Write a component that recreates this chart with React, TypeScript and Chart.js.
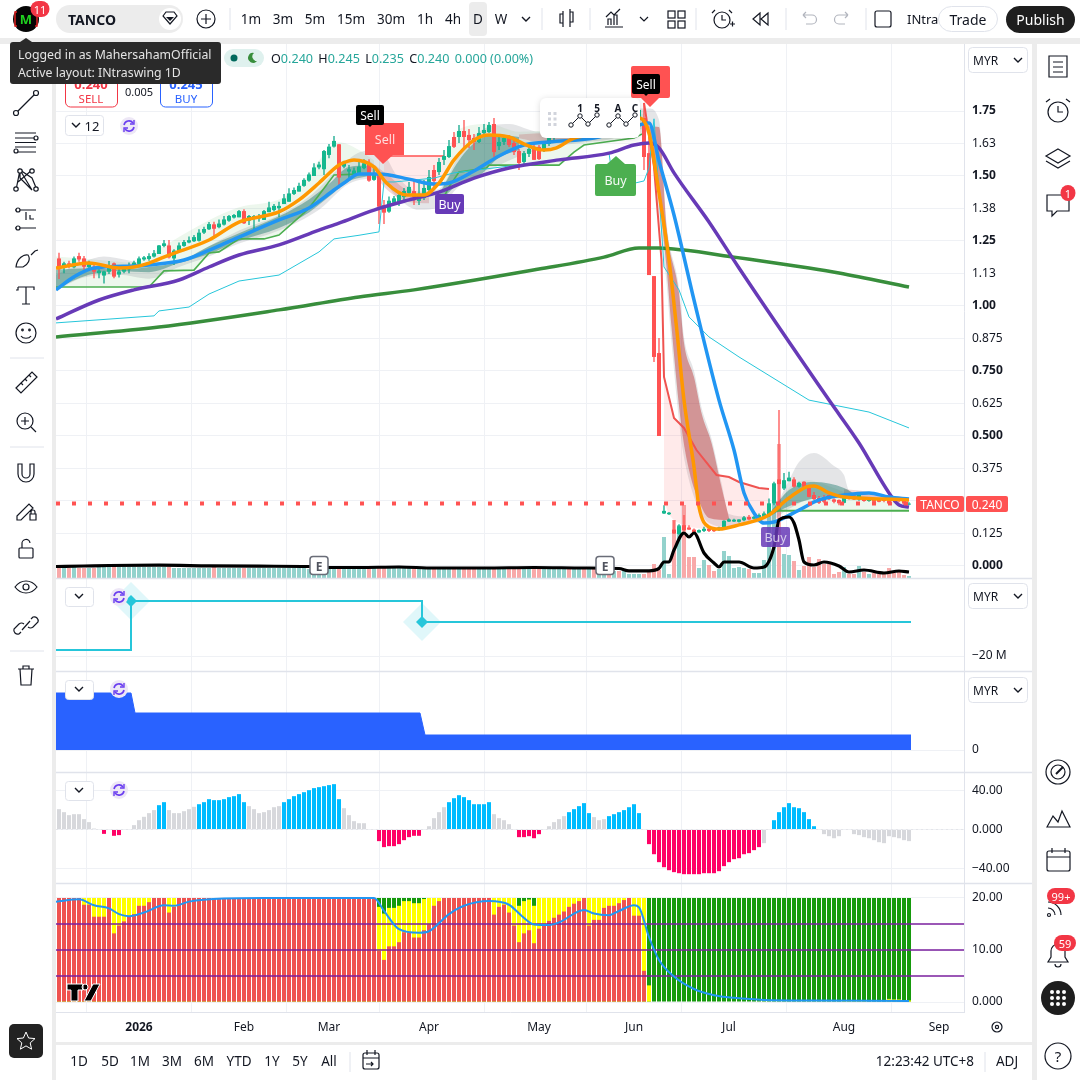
import React, { useEffect, useRef } from "react";
import { Chart, registerables } from "chart.js";

Chart.register(...registerables);

const FONT = '"Noto Sans", "Open Sans", sans-serif';

// ---------- data ----------
const monthTicks = [16, 37, 54, 74, 96, 115, 134, 157, 176];
const monthLabels = ["2026", "Feb", "Mar", "Apr", "May", "Jun", "Jul", "Aug", "Sep"];
const priceTicks = [0, 0.125, 0.25, 0.375, 0.5, 0.625, 0.75, 0.875, 1, 1.125, 1.25, 1.375, 1.5, 1.625, 1.75];
const priceTickLabels = ["0.000", "0.125", "", "0.375", "0.500", "0.625", "0.750", "0.875", "1.00", "1.13", "1.25", "1.38", "1.50", "1.63", "1.75"];
const boldPriceLabels = ["0.000", "0.500", "0.750", "1.00", "1.25", "1.50", "1.75"];

const opens = [
  1.183,1.149,1.164,1.149,1.192,1.183,1.149,1.151,1.126,1.117,
  1.132,1.164,1.121,1.132,1.141,1.154,1.162,1.179,1.181,1.190,
  1.200,1.231,1.233,1.183,1.213,1.231,1.244,1.249,1.251,1.282,
  1.295,1.314,1.303,1.313,1.328,1.340,1.341,1.365,1.328,1.337,
  1.337,1.331,1.361,1.369,1.376,1.392,1.401,1.431,1.440,1.462,
  1.482,1.500,1.533,1.526,1.581,1.613,1.622,1.536,1.517,1.508,
  1.510,1.530,1.549,1.485,1.504,1.388,1.363,1.397,1.396,1.419,
  1.435,1.442,1.404,1.415,1.446,1.523,1.515,1.562,1.573,1.650,
  1.650,1.673,1.658,1.646,1.631,1.665,1.669,1.700,1.615,1.631,
  1.646,1.627,1.596,1.554,1.585,1.612,1.612,1.600,1.623,1.646,
  1.66,1.68,1.70,1.69,1.71,1.73,1.71,1.72,1.68,1.71,
  1.73,1.72,1.73,1.72,1.70,1.72,1.723,1.723,1.588,1.115,
  0.819,0.202,0.199,0.140,0.123,0.157,0.148,0.140,0.129,0.135,
  0.144,0.142,0.138,0.148,0.171,0.171,0.170,0.176,0.189,0.182,
  0.187,0.189,0.196,0.241,0.333,0.298,0.326,0.333,0.305,0.324,
  0.310,0.273,0.262,0.260,0.273,0.256,0.254,0.243,0.273,0.266,
  0.256,0.260,0.250,0.256,0.256,0.256,0.253,0.260,0.255,0.250,0.240,
];
const highs = [
  1.205,1.170,1.174,1.190,1.205,1.192,1.174,1.164,1.141,1.136,
  1.173,1.167,1.151,1.151,1.167,1.174,1.190,1.192,1.203,1.215,
  1.235,1.254,1.254,1.218,1.244,1.254,1.267,1.273,1.295,1.305,
  1.323,1.324,1.333,1.346,1.350,1.354,1.369,1.372,1.350,1.350,
  1.354,1.369,1.401,1.392,1.401,1.431,1.453,1.456,1.474,1.491,
  1.513,1.549,1.555,1.600,1.623,1.654,1.623,1.559,1.542,1.533,
  1.564,1.564,1.564,1.538,1.508,1.408,1.421,1.423,1.438,1.454,
  1.477,1.485,1.473,1.485,1.523,1.542,1.569,1.600,1.638,1.669,
  1.696,1.715,1.681,1.662,1.688,1.700,1.708,1.723,1.650,1.658,
  1.658,1.650,1.604,1.596,1.615,1.619,1.619,1.635,1.658,1.677,
  1.69,1.71,1.72,1.72,1.74,1.75,1.73,1.74,1.72,1.74,
  1.75,1.74,1.74,1.75,1.74,1.745,1.76,1.781,1.65,1.115,
  0.877,0.234,0.208,0.176,0.161,0.196,0.157,0.144,0.140,0.151,
  0.148,0.144,0.151,0.176,0.183,0.182,0.180,0.192,0.196,0.193,
  0.202,0.210,0.260,0.324,0.600,0.358,0.362,0.341,0.324,0.326,
  0.311,0.285,0.269,0.273,0.275,0.260,0.256,0.275,0.279,0.273,
  0.279,0.262,0.262,0.260,0.260,0.259,0.258,0.262,0.258,0.252,0.245,
];
const lows = [
  1.104,1.126,1.145,1.145,1.170,1.139,1.141,1.107,1.107,1.087,
  1.123,1.107,1.110,1.126,1.126,1.149,1.151,1.174,1.174,1.187,
  1.200,1.226,1.183,1.158,1.213,1.228,1.241,1.246,1.248,1.277,
  1.292,1.269,1.299,1.310,1.324,1.337,1.341,1.315,1.312,1.292,
  1.324,1.331,1.361,1.363,1.341,1.392,1.401,1.427,1.440,1.459,
  1.478,1.500,1.526,1.504,1.568,1.610,1.453,1.530,1.485,1.500,
  1.504,1.526,1.478,1.482,1.315,1.315,1.359,1.395,1.385,1.404,
  1.427,1.388,1.388,1.408,1.438,1.446,1.504,1.542,1.569,1.608,
  1.627,1.608,1.608,1.600,1.627,1.658,1.665,1.573,1.600,1.619,
  1.612,1.581,1.523,1.546,1.573,1.562,1.562,1.592,1.615,1.638,
  1.65,1.67,1.68,1.67,1.70,1.70,1.69,1.66,1.67,1.70,
  1.71,1.70,1.71,1.70,1.69,1.71,1.715,1.523,1.119,0.785,
  0.500,0.200,0.196,0.123,0.120,0.135,0.138,0.125,0.128,0.131,
  0.131,0.131,0.135,0.146,0.169,0.169,0.167,0.172,0.176,0.179,
  0.185,0.187,0.189,0.234,0.241,0.292,0.326,0.302,0.302,0.302,
  0.264,0.254,0.238,0.241,0.254,0.241,0.234,0.241,0.256,0.254,
  0.251,0.247,0.247,0.245,0.245,0.245,0.235,0.245,0.245,0.235,0.235,
];
const closes = [
  1.141,1.164,1.151,1.183,1.179,1.151,1.162,1.132,1.136,1.133,
  1.151,1.113,1.133,1.142,1.154,1.167,1.183,1.187,1.192,1.203,
  1.233,1.241,1.187,1.213,1.233,1.246,1.253,1.265,1.282,1.296,
  1.315,1.297,1.317,1.333,1.346,1.350,1.365,1.318,1.346,1.346,
  1.346,1.365,1.379,1.385,1.385,1.414,1.433,1.446,1.462,1.485,
  1.506,1.533,1.544,1.596,1.613,1.635,1.494,1.555,1.526,1.521,
  1.536,1.549,1.482,1.504,1.382,1.359,1.405,1.414,1.427,1.442,
  1.458,1.419,1.431,1.454,1.496,1.481,1.554,1.577,1.615,1.612,
  1.673,1.650,1.638,1.631,1.665,1.677,1.696,1.592,1.631,1.646,
  1.619,1.592,1.550,1.588,1.604,1.562,1.565,1.627,1.646,1.665,
  1.68,1.70,1.69,1.71,1.73,1.71,1.72,1.68,1.71,1.73,
  1.72,1.73,1.72,1.74,1.72,1.735,1.754,1.573,1.119,0.804,
  0.500,0.212,0.205,0.125,0.153,0.138,0.140,0.128,0.138,0.143,
  0.135,0.134,0.148,0.174,0.179,0.178,0.179,0.187,0.179,0.189,
  0.196,0.202,0.241,0.318,0.315,0.330,0.340,0.305,0.320,0.305,
  0.266,0.257,0.243,0.247,0.257,0.247,0.241,0.269,0.260,0.256,
  0.273,0.250,0.258,0.247,0.247,0.250,0.240,0.250,0.250,0.240,0.240,
];
const volumes = [
  1.0,1.0,1.0,1.1,1.0,1.0,1.0,1.0,1.1,1.1,
  1.1,1.1,1.1,1.1,1.1,1.1,1.1,1.1,1.1,1.1,
  1.1,1.1,1.1,1.0,1.0,1.0,1.0,1.0,1.0,1.0,
  1.0,1.1,1.0,1.0,1.0,1.0,1.0,1.0,1.0,1.0,
  1.0,1.0,1.0,1.0,1.0,1.0,1.0,1.0,1.0,1.0,
  0.9,0.9,0.9,0.9,0.9,0.9,1.0,1.0,1.0,1.0,
  1.0,1.0,1.0,1.0,1.0,1.0,1.0,1.0,1.0,1.0,
  1.0,1.0,1.0,1.0,0.9,0.9,1.0,1.0,1.0,1.0,
  1.0,1.0,1.0,1.0,1.0,1.0,1.0,1.0,1.0,1.0,
  1.0,1.0,1.0,1.0,1.0,1.0,1.0,1.0,1.0,1.0,
  1.0,1.0,1.0,1.0,1.0,1.0,1.0,1.0,0.9,0.7,
  0.7,0.7,0.7,0.7,0.4,0.4,0.4,0.4,0.8,1.4,
  0.8,4.1,0.4,5.8,5.3,7.3,2.1,2.1,1.0,1.8,
  1.3,0.7,0.9,2.7,2.2,1.0,1.1,1.0,0.9,0.5,
  0.5,1.8,6.9,9.4,13.4,2.4,2.3,1.7,0.8,1.2,
  2.1,1.1,1.9,1.4,1.4,0.4,0.6,1.1,0.4,0.4,
  1.2,0.6,0.4,0.5,0.4,0.4,1.0,0.5,0.6,0.3,0.2,
];
const volumeAverage = [[-0.6,1.15],[5,1.2],[10,1.25],[20,1.28],[30,1.22],[40,1.18],[50,1.15],[55,1.05],[60,1.05],[68,1.1],[75,1.0],[85,1.0],[95,1.05],[105,1.0],[112,0.95],[114,0.72],[118,0.72],[120,0.96],[121,1.6],[122,1.6],[123,2.8],[125,4.5],[126,4.1],[127,4.5],[129,2.5],[131,1.5],[132,1.1],[133,1.6],[136,1.6],[139,1.0],[141,1.1],[143,3.1],[144,5.8],[146,6.1],[147,5.5],[148,3.8],[149,1.6],[151,1.3],[153,1.6],[156,1.2],[158,0.6],[161,0.8],[165,0.5],[168,0.7],[170,0.6]];

const orangeLine = [[-0.6,1.146],[6,1.165],[12,1.146],[15,1.150],[18,1.165],[22,1.196],[30,1.254],[36,1.323],[44,1.362],[48,1.408],[52,1.473],[56,1.542],[58,1.558],[59,1.562],[63,1.535],[65.5,1.473],[69.5,1.427],[73,1.427],[76,1.473],[79,1.562],[83,1.638],[86,1.658],[90,1.650],[93.5,1.619],[97,1.600],[99.5,1.608],[103,1.646],[108,1.658],[112,1.665],[116,1.723],[118,1.665],[120,1.435],[122,1.177],[123.5,0.919],[125,0.638],[127,0.381],[128,0.227],[130,0.150],[132,0.142],[136,0.158],[142,0.196],[145.5,0.254],[149.5,0.304],[151,0.308],[154,0.281],[157,0.265],[165,0.258],[170,0.254]];
const blueLine = [[-0.6,1.062],[3,1.112],[7,1.146],[15,1.154],[18,1.158],[25,1.177],[31,1.223],[36,1.265],[44,1.331],[50,1.377],[55,1.446],[57,1.473],[60,1.508],[64,1.508],[70,1.488],[75,1.469],[78,1.473],[83,1.519],[88,1.577],[93,1.619],[98,1.631],[107,1.646],[116,1.696],[118,1.704],[120,1.558],[123,1.350],[127,1.023],[132,0.638],[135,0.446],[137,0.281],[139,0.204],[141,0.165],[143,0.169],[148,0.215],[152,0.254],[157,0.273],[162,0.281],[166,0.265],[170,0.258]];
const purpleLine = [[-0.6,0.95],[8,1.023],[15,1.062],[24,1.100],[30,1.150],[36,1.196],[44,1.235],[52,1.292],[56,1.319],[63,1.369],[70,1.408],[76,1.438],[83,1.492],[90,1.531],[100,1.562],[110,1.588],[115,1.619],[118,1.627],[120,1.608],[123,1.512],[130,1.323],[136,1.146],[154,0.638],[160,0.473],[166,0.281],[168,0.235],[170,0.227]];
const darkGreenLine = [[-0.6,0.881],[20,0.919],[44,0.985],[60,1.035],[71,1.062],[96,1.142],[109,1.188],[116,1.223],[120,1.223],[125,1.215],[135,1.188],[150,1.146],[156,1.127],[170,1.073]];
const cyanLine = [[-0.6,0.935],[19,0.962],[20,0.981],[26,0.996],[30,1.046],[36,1.096],[44,1.119],[52,1.208],[55,1.258],[60,1.272],[64,1.285],[65,1.477],[67,1.477],[75,1.492],[79,1.512],[100,1.562],[110,1.588],[111,1.454],[117,1.481],[118,1.531],[119,1.72],[120,1.435],[121,1.150],[124,1.062],[126,0.958],[130,0.881],[136,0.804],[150,0.638],[162,0.592],[170,0.531]];
const stepGreenA = [[-0.6,1.073],[18,1.073],[21,1.135],[27,1.138],[30,1.204],[32,1.208],[36,1.258],[41,1.258],[44,1.273],[49,1.358],[50,1.377],[52,1.427],[55,1.504],[61,1.508],[63,1.508]];
const stepRedA = [[65,1.577],[77,1.577]];
const stepGreenB = [[76.5,1.40],[78,1.458],[80,1.515],[85.5,1.531],[86,1.542],[100,1.542],[103,1.592],[105,1.619],[115,1.646],[117,1.665]];
const stepRedB = [[117,1.781],[119,1.535],[120.5,1.177],[121,0.727],[123,0.569],[125,0.531],[127.5,0.446],[131.5,0.35],[134,0.342],[136,0.323],[140,0.30],[142,0.296]];
const paleBottomC = [[121,0.25],[122,0.2],[124,0.165],[128,0.145],[132,0.142],[136,0.158],[142,0.196]];
const stepGreenC = [[143,0.212],[170,0.212]];
const paleTopA = [[-0.6,1.19],[12,1.17],[15,1.165],[20,1.22],[30,1.33],[36,1.38],[44,1.41],[48,1.46],[52,1.56],[56,1.63],[60,1.60],[63,1.56]];
const paleTopB = [[77,1.56],[80,1.68],[86,1.70],[92,1.67],[100,1.68],[110,1.70],[117,1.74]];
const paleTopC = [[143,0.20],[146,0.30],[150,0.33],[152,0.32],[160,0.27],[170,0.26]];
const greyTop = [[-0.6,1.12],[5,1.17],[9,1.19],[14,1.175],[19,1.155],[24,1.17],[30,1.23],[36,1.29],[44,1.35],[50,1.42],[56,1.53],[60,1.59],[64,1.60],[68,1.49],[72,1.44],[76,1.45],[80,1.58],[84,1.67],[90,1.70],[96,1.67],[105,1.67],[116,1.76],[118,1.76],[120,1.715],[121.5,1.32],[124,1.07],[125,0.88],[127,0.75],[128.5,0.61],[130.5,0.49],[132.5,0.32],[134,0.20],[138,0.19],[142,0.20],[146,0.33],[148,0.40],[151,0.435],[155,0.385],[157,0.35],[158,0.29],[162,0.275],[170,0.26]];
const greyBottom = [[-0.6,1.06],[5,1.11],[12,1.12],[18,1.105],[24,1.15],[30,1.19],[36,1.24],[44,1.29],[52,1.37],[58,1.47],[64,1.49],[68,1.41],[72,1.37],[76,1.38],[80,1.46],[84,1.50],[90,1.56],[96,1.60],[105,1.63],[110,1.64],[116,1.68],[118,1.65],[119.5,1.44],[121.5,1.09],[122.5,0.86],[124.5,0.48],[126,0.33],[128.5,0.20],[130,0.165],[134,0.15],[138,0.165],[142,0.17],[146,0.22],[151,0.26],[157,0.26],[162,0.265],[170,0.25]];
const tealTopA = [[-0.6,1.14],[6,1.145],[12,1.14],[18,1.15],[24,1.17],[30,1.23],[36,1.28],[44,1.345],[50,1.41],[54,1.47],[58,1.535],[62,1.54]];
const tealBottomA = [[-0.6,1.068],[6,1.12],[12,1.135],[18,1.13],[24,1.165],[30,1.20],[36,1.25],[44,1.30],[50,1.36],[54,1.42],[58,1.48],[62,1.50]];
const redTopA = [[62,1.56],[66,1.50],[70,1.44],[74,1.42]];
const redBottomA = [[62,1.53],[66,1.44],[70,1.40],[74,1.395]];
const tealTopB = [[76,1.43],[80,1.56],[84,1.64],[88,1.66],[92,1.65]];
const tealBottomB = [[76,1.40],[80,1.47],[84,1.50],[88,1.57],[92,1.60]];
const redTopC = [[118,1.69],[120,1.688],[121.5,1.304],[124,1.05],[125,0.858],[127,0.727],[128.5,0.588],[130.5,0.473],[132.5,0.304],[134,0.185]];
const redBottomC = [[118,1.688],[119.5,1.496],[121.5,1.15],[122.5,0.919],[124.5,0.535],[126,0.369],[128.5,0.227],[130,0.185],[134,0.177]];
const tealTopC = [[142,0.20],[146,0.292],[151,0.323],[157,0.30],[160,0.265]];
const tealBottomC = [[142,0.19],[146,0.23],[151,0.26],[157,0.27],[160,0.265]];
const faintRedTopB = [[92,1.66],[98,1.665],[103,1.665]];
const faintRedBottomB = [[92,1.645],[98,1.625],[103,1.65]];
const faintRedTopD = [[157,0.295],[162,0.285],[166,0.265]];
const faintRedBottomD = [[157,0.27],[162,0.262],[166,0.26]];
const lastPrice = [[-0.6,0.24],[171.2,0.24]];

const flowLine = [[-0.6,-14],[14.4,-14],[14.4,35],[72.6,35],[72.6,14],[170.4,14]];
const flowMarks = [[14.4,35],[72.6,14]];
const flowTicks = [-20];
const areaLine = [[-0.6,57],[14.4,57],[15.2,37],[72.2,37],[73.2,15],[170.4,15]];
const areaTicks = [0];

const oscillator = [
  21,17.9,14.8,15.8,15.8,10.7,7.6,1,0,-4.5,
  0,-6.5,-5.8,0,0,4.5,9.6,13.1,16.9,20,
  25.1,28.2,20,16.9,16.9,18.9,21,23.4,26.1,28.2,
  31.3,30.3,30.3,31.3,33.4,34.4,36.5,28.2,24.1,21,
  16.9,17.9,20,23,24.1,28.2,31.3,34.4,36.5,38.5,
  40.6,42.7,43.7,44.7,45.8,46.8,31.3,22,14.8,8.6,
  6.5,6.5,0,0,-12,-18.2,-17.2,-17.2,-15.1,-11,
  -7.9,-6.5,-6.5,0,3.4,11.7,17.9,23,28.2,32.3,
  35.4,33.4,30.3,26.1,26.1,26.1,28.2,15.8,11.7,9.6,
  5.5,0,-7.9,-7.9,-6.9,-9,-4.8,0,3.4,7.6,
  10.7,13.8,17.9,21,24.1,27.2,16.9,12.8,9.6,10.7,
  13.8,15.8,17.9,20,23,26.1,16.9,0,-15.1,-25.5,
  -33.7,-38.9,-42,-44,-45.1,-46.1,-46.1,-46.1,-46.1,-45.1,
  -45.1,-45.1,-43,-37.8,-33.7,-30.6,-29.6,-25.5,-24.4,-21.3,
  -18.2,-14.1,0,9.6,17.9,23,27.2,23,22,17.9,
  10.7,3.4,0,-4.8,-6.9,-9,-6.9,0,0,-4.8,
  -5.8,-7.9,-9,-11,-13.1,-14.1,-6.9,-7.9,-9,-11,-12,
];
const oscillatorRuns = [[0,"g"],[9,"p"],[10,"g"],[11,"p"],[13,"g"],[20,"b"],[22,"g"],[28,"b"],[38,"g"],[45,"b"],[57,"g"],[64,"p"],[73,"g"],[78,"b"],[87,"g"],[92,"p"],[97,"g"],[102,"b"],[107,"g"],[110,"b"],[117,"g"],[118,"p"],[141,"g"],[143,"b"],[152,"g"]] as [number,string][];
const oscillatorTicks = [40, 0, -40];
const oscillatorTickLabels = ["40.00", "0.000", "\u221240.00"];

const redLevel = [
  20,20,20,20,20,18.7,18.7,16.4,16.4,16.4,
  20,13.2,14.7,15.5,16.4,16.9,18.5,18.5,19.2,20,
  20,20,17.2,18.3,20,20,20,20,20,20,
  20,20,20,20,20,20,20,20,20,20,
  20,20,20,20,20,20,20,20,20,20,
  20,20,20,20,20,20,20,20,20,20,
  20,20,20,20,9.8,8.1,10.7,10.7,11.5,13.4,
  13.4,12.4,12.4,13.8,14.9,18.5,19.4,20,20,20,
  20,20,20,20,20,20,20,16.8,18.3,18.7,
  17.2,14.7,11.5,13.2,13.8,11.3,14.1,14.7,15.6,16.2,
  16.8,17.4,18.3,18.9,19.4,20,14.7,15.8,15.8,18.1,
  18.5,18.5,19,19.6,20,16.6,16.6,6,0.1,0.1,
  0.1,0.1,0.1,0.1,0.1,0.1,0.1,0.1,0.1,0.1,
  0.1,0.1,0.1,0.1,0.1,0.1,0.1,0.1,0.1,0.1,
  0.1,0.1,0.1,0.1,0.1,0.1,0.1,0.1,0.1,0.1,
  0.1,0.1,0.1,0.1,0.1,0.1,0.1,0.1,0.1,0.1,
  0.1,0.1,0.1,0.1,0.1,0.1,0.1,0.1,0.1,0.1,0.1,
];
const yellowLevel = [
  20,20,20,20,20,20,20,20,20,20,
  20,20,20,20,20,20,20,20,20,20,
  20,20,20,20,20,20,20,20,20,20,
  20,20,20,20,20,20,20,20,20,20,
  20,20,20,20,20,20,20,20,20,20,
  20,20,20,20,20,20,20,20,20,20,
  20,20,20,20,18.3,17,18.1,18.1,18.5,19.4,
  19.4,19,19,19.8,20,20,20,20,20,20,
  20,20,20,20,20,20,20,20,20,20,
  20,20,18.5,19.4,19.7,18.5,20,20,20,20,
  20,20,20,20,20,20,20,20,20,20,
  20,20,20,20,20,20,20,20,3.2,0.1,
  0.1,0.1,0.1,0.1,0.1,0.1,0.1,0.1,0.1,0.1,
  0.1,0.1,0.1,0.1,0.1,0.1,0.1,0.1,0.1,0.1,
  0.1,0.1,0.1,0.1,0.1,0.1,0.1,0.1,0.1,0.1,
  0.1,0.1,0.1,0.1,0.1,0.1,0.1,0.3,0.3,0.3,
  0.3,0.3,0.1,0.1,0.1,0.1,0.6,0.5,0.5,0.2,0.3,
];
const trendLine = [[-0.6,19.3],[4,19.75],[7,18.6],[10,18],[12,16.9],[14,16.5],[17,17.2],[21,18.6],[23,18.5],[26,19.3],[33,19.9],[41,20],[63,20],[65,17.5],[68,14],[72,13.3],[74,13.6],[78,16.9],[81,18.5],[86,19.4],[90,18.7],[92.5,16.6],[95,14.9],[98,14.8],[100,15.3],[105,17.7],[107,17],[110,16.7],[112,17.5],[115,18.6],[116,18.2],[118,12.5],[120,8.1],[123,4.9],[127,2.5],[131,1.3],[135,0.8],[141,0.4],[151,0.3],[170,0.2]];
const trendLevels = [15, 10, 5];
const trendTicks = [20, 10, 0];
const trendTickLabels = ["20.00", "10.00", "0.000"];

// ---------- helpers ----------
const UP = "#12a88c", DOWN = "#ff5252";
const GRID = "#eff1f5", EDGE = "#e0e3eb";
const XMIN = -0.6, XMAX = 181;
const pts = (k: number[][]) => k.map(([x, y]) => ({ x, y }));
const idx = (a: number[]) => a.map((y, x) => ({ x, y }));
const isUp = (i: number) => closes[i] >= opens[i];
const noPad = (s: any) => { s.paddingLeft = 0; s.paddingRight = 0; s.paddingTop = 0; s.paddingBottom = 0; };

function xAxis(showLabels: boolean) {
  return {
    type: "linear", min: XMIN, max: XMAX, offset: false,
    border: { display: showLabels, color: EDGE },
    grid: { color: GRID, drawTicks: false, lineWidth: 1 },
    afterBuildTicks: (s: any) => { s.ticks = monthTicks.map((value) => ({ value })); },
    afterFit: (s: any) => { s.height = showLabels ? 28 : 0; noPad(s); },
    ticks: {
      display: showLabels, autoSkip: false, maxRotation: 0, padding: 8, color: "#131722",
      font: (c: any) => ({ family: FONT, size: 12, weight: c.index === 0 ? "700" : "400" }),
      callback: (_: any, i: number) => monthLabels[i],
    },
  };
}
function yAxis(min: number, max: number, ticks: number[], label: (v: number, i: number) => string, bold?: (s: string) => boolean) {
  return {
    type: "linear", position: "right", min, max,
    border: { display: true, color: EDGE },
    grid: { color: GRID, drawTicks: false, lineWidth: 1 },
    afterBuildTicks: (s: any) => { s.ticks = ticks.map((value) => ({ value })); },
    afterFit: (s: any) => { s.width = 66; noPad(s); },
    ticks: {
      autoSkip: false, padding: 8, color: "#131722",
      font: (c: any) => ({ family: FONT, size: 12, weight: bold && c.tick && bold(c.tick.label) ? "700" : "400" }),
      callback: (v: number, i: number) => label(v, i),
    },
  };
}
function line(k: number[][], color: string, width: number, order: number, extra: any = {}) {
  return {
    type: "line", data: pts(k), borderColor: color, borderWidth: width, pointRadius: 0,
    cubicInterpolationMode: "monotone", order, fill: false, ...extra,
  };
}
function band(top: number[][], color: string, targetIndex: number, order: number) {
  return {
    type: "line", data: pts(top), borderWidth: 0, borderColor: "transparent", pointRadius: 0,
    backgroundColor: color, order, fill: { target: targetIndex },
    cubicInterpolationMode: "monotone",
  };
}
function edge(k: number[][]) {
  return { type: "line", data: pts(k), borderWidth: 0, borderColor: "transparent", pointRadius: 0, order: 999, fill: false, cubicInterpolationMode: "monotone" };
}
function baseOptions(scales: any) {
  return {
    responsive: false, animation: false, devicePixelRatio: 1,
    layout: { padding: 0, autoPadding: false },
    plugins: { legend: { display: false }, tooltip: { enabled: false } },
    events: [], parsing: true, scales,
  };
}

function mainDatasets() {
  const TEAL = "rgba(0,105,92,0.38)", CRIMSON = "rgba(183,28,28,0.4)", FAINT = "rgba(183,28,28,0.18)";
  const PALEG = "rgba(76,175,80,0.1)", PALER = "rgba(255,82,82,0.12)";
  const ds: any[] = [];
  const add = (d: any) => { ds.push(d); return ds.length - 1; };
  const orangeI = add(line(orangeLine, "#ff9800", 3.5, 29));
  add(line(blueLine, "#2196f3", 3.5, 30));
  add(line(purpleLine, "#673ab7", 3.5, 38));
  add(line(darkGreenLine, "#388e3c", 3.5, 40));
  add(line(cyanLine, "#26c6da", 1, 39, { cubicInterpolationMode: "default" }));
  add({ ...line(volumeAverage, "#000000", 3.2, 10), yAxisID: "yVol" });
  add({ ...line(lastPrice, "#ff5252", 4, 20), borderDash: [4, 12], cubicInterpolationMode: "default" });
  add({ type: "bar", grouped: false, yAxisID: "y", order: 49, barThickness: 4, minBarLength: 1, inflateAmount: 0,
    data: opens.map((o, i) => ({ x: i, y: [Math.min(o, closes[i]), Math.max(o, closes[i])] })),
    backgroundColor: opens.map((_, i) => (isUp(i) ? "#14b88f" : DOWN)) });
  add({ type: "bar", grouped: false, yAxisID: "y", order: 50, barThickness: 1.3, inflateAmount: 0,
    data: highs.map((h, i) => ({ x: i, y: [lows[i], h] })),
    backgroundColor: opens.map((_, i) => (isUp(i) ? UP : DOWN)) });
  add({ type: "bar", grouped: false, yAxisID: "yVol", order: 100, barThickness: 4, inflateAmount: 0,
    data: idx(volumes),
    backgroundColor: opens.map((_, i) => (isUp(i) ? "#93d2cc" : "#f8a9a9")) });
  // step lines with their pale fills
  const straight = { cubicInterpolationMode: "default" };
  const gA = add(line(stepGreenA, "#4caf50", 1.6, 60, straight));
  const gB = add(line(stepGreenB, "#4caf50", 1.6, 60, straight));
  const gC = add(line(stepGreenC, "#4caf50", 2, 60, straight));
  const pC = add(edge(paleBottomC));
  add(line(stepRedA, "#ff5252", 1.6, 60, { ...straight, backgroundColor: PALER, fill: { target: orangeI } }));
  add(line(stepRedB, "#ef5350", 2, 58, { ...straight, backgroundColor: PALER, fill: { target: pC } }));
  add(band(paleTopA, PALEG, gA, 90));
  add(band(paleTopB, PALEG, gB, 90));
  add(band(paleTopC, PALEG, gC, 90));
  // grey envelope
  const gb = add(edge(greyBottom));
  add(band(greyTop, "rgba(120,123,134,0.2)", gb, 85));
  // coloured bands
  const pairs: [number[][], number[][], string][] = [
    [tealTopA, tealBottomA, TEAL], [redTopA, redBottomA, FAINT], [tealTopB, tealBottomB, TEAL],
    [faintRedTopB, faintRedBottomB, FAINT], [redTopC, redBottomC, CRIMSON], [tealTopC, tealBottomC, TEAL], [faintRedTopD, faintRedBottomD, FAINT],
  ];
  pairs.forEach(([t, b, c]) => { const bi = add(edge(b)); add(band(t, c, bi, 70)); });
  return ds;
}

const colorOf: Record<string, string> = { g: "#d7d8dc", b: "#00bcff", p: "#ff0266" };
function oscColor(i: number) {
  let k = "g";
  for (const [start, kind] of oscillatorRuns) if (i >= start) k = kind;
  return colorOf[k];
}

// ---------- page ----------
const Txt = ({ x, y, t, s = 13, c = "#131722", w = 400, a = "middle", o = 1 }: any) => (
  <text x={x} y={y} fontSize={s} fill={c} fontWeight={w} textAnchor={a} opacity={o} fontFamily={FONT} dominantBaseline="central">{t}</text>
);
const Sync = ({ x, y }: any) => (
  <g>
    <circle cx={x} cy={y} r={9} fill="#ede7f6" />
    <path d={`M${x - 5} ${y - 1}a5 5 0 0 1 9-2 M${x + 5} ${y + 1}a5 5 0 0 1-9 2`} stroke="#6a3df0" strokeWidth="1.6" fill="none" />
    <path d={`M${x + 5} ${y - 6}v4h-4 M${x - 5} ${y + 6}v-4h4`} stroke="#6a3df0" strokeWidth="1.4" fill="none" />
  </g>
);
const Chev = ({ x, y, c = "#131722" }: any) => <path d={`M${x - 4} ${y - 2}l4 4l4-4`} stroke={c} strokeWidth="1.4" fill="none" />;
const Sep = ({ x }: any) => <line x1={x} x2={x} y1={8} y2={30} stroke="#e0e3eb" />;
const Badge = ({ x, y, t, w = 18 }: any) => (
  <g>
    <rect x={x - w / 2} y={y - 8} width={w} height={16} rx={8} fill="#f23645" />
    <Txt x={x} y={y} t={t} s={11} c="#fff" />
  </g>
);
const MyrBox = ({ y }: any) => (
  <g>
    <rect x={968.5} y={y + .5} width={59} height={25} rx={4} fill="#fff" stroke="#e0e3eb" />
    <Txt x={973} y={y + 13} t="MYR" s={12} a="start" />
    <Chev x={1018} y={y + 13} />
  </g>
);
const Wave = ({ x, a, b }: any) => (
  <g>
    <path d={`M${x} 125 l9 -9 l8 8 l9 -9`} stroke="#131722" fill="none" strokeWidth="1" />
    {[[x, 125], [x + 9, 116], [x + 17, 124], [x + 26, 115]].map(([p, q], i) => <circle key={i} cx={p} cy={q} r="2.2" fill="#fff" stroke="#131722" />)}
    <Txt x={x + 9} y={108} t={a} s={10} w={700} />
    <Txt x={x + 26} y={108} t={b} s={10} w={700} />
  </g>
);

function Overlay() {
  const st = { stroke: "#131722", fill: "none", strokeWidth: 1.2 };
  return (
    <svg width={1080} height={1080} style={{ position: "absolute", left: 0, top: 0, pointerEvents: "none" }}>
      {/* header strip inside the main pane */}
      <rect x={224} y={49} width={40} height={18} rx={9} fill="#dff1ee" />
      <circle cx={234} cy={58} r={3.5} fill="#00695c" />
      <path d="M254 53a5 5 0 1 0 3 8a4.5 4.5 0 0 1-3-8z" fill="#388e3c" />
      <text x={271} y={58} fontSize={12.6} fontFamily={FONT} dominantBaseline="central" fill="#26a69a">
        <tspan fill="#131722">O</tspan>0.240 <tspan fill="#131722" dx={2}>H</tspan>0.245 <tspan fill="#131722" dx={2}>L</tspan>0.235 <tspan fill="#131722" dx={2}>C</tspan>0.240 <tspan dx={2}>0.000 (0.00%)</tspan>
      </text>

      {/* buy / sell box */}
      <rect x={65.5} y={70} width={52} height={37} rx={5} fill="#fff" stroke="#f23645" />
      <Txt x={91} y={84} t="0.240" c="#f23645" w={700} />
      <Txt x={91} y={98} t="SELL" c="#f23645" s={11.5} />
      <Txt x={139} y={91} t="0.005" s={11} />
      <rect x={160.5} y={70} width={52} height={37} rx={5} fill="#fff" stroke="#2962ff" />
      <Txt x={186} y={84} t="0.245" c="#2962ff" w={700} />
      <Txt x={186} y={98} t="BUY" c="#2962ff" s={11.5} />

      <rect x={65.5} y={115.5} width={38} height={20} rx={3} fill="#fff" stroke="#e0e3eb" />
      <Chev x={76} y={125} />
      <Txt x={92} y={126} t="12" s={13} />
      <Sync x={129} y={126} />

      {/* signal labels */}
      <path d="M365 123h39v32h-11l-10 9l-9-9h-9z" fill="#ff5252" />
      <Txt x={385} y={139} t="Sell" c="#fff" s={12.5} o={.8} />
      <path d="M358 105h24a2 2 0 0 1 2 2v16a2 2 0 0 1-2 2h-10l-2 2l-2-2h-10a2 2 0 0 1-2-2v-16a2 2 0 0 1 2-2z" fill="#000" />
      <Txt x={370} y={115} t="Sell" c="#fff" s={12} />
      <rect x={435} y={194} width={29} height={20} rx={2} fill="#673ab7" />
      <Txt x={449.5} y={204} t="Buy" c="#fff" s={12.5} />
      <path d="M616 156l9 8h9a2 2 0 0 1 2 2v28a2 2 0 0 1-2 2h-37a2 2 0 0 1-2-2v-28a2 2 0 0 1 2-2h10z" fill="#4caf50" />
      <Txt x={615.5} y={180} t="Buy" c="#fff" s={12.5} o={.95} />
      <path d="M631 68a2 2 0 0 1 2-2h35a2 2 0 0 1 2 2v28a2 2 0 0 1-2 2h-9l-9 9l-9-9h-8a2 2 0 0 1-2-2z" fill="#ff5252" />
      <path d="M634 74h24a2 2 0 0 1 2 2v16a2 2 0 0 1-2 2h-10l-2 2l-2-2h-10a2 2 0 0 1-2-2v-16a2 2 0 0 1 2-2z" fill="#000" />
      <Txt x={646} y={84} t="Sell" c="#fff" s={12} />
      <rect x={761} y={527} width={29} height={20} rx={2} fill="#673ab7" opacity=".85" />
      <Txt x={775.5} y={537} t="Buy" c="#fff" s={12.5} o={.7} />

      {/* earnings */}
      {[319, 605].map((x) => (
        <g key={x}>
          <rect x={x - 9} y={556.5} width={18} height={18} rx={3} fill="#fff" stroke="#6a6d78" strokeWidth={1.5} />
          <Txt x={x} y={566} t="E" s={12} w={700} c="#50535e" />
        </g>
      ))}

      {/* floating drawing toolbar */}
      <rect x={540} y={98} width={100} height={40} rx={6} fill="#fff" style={{ filter: "drop-shadow(0 1px 3px rgba(0,0,0,.15))" }} />
      {[0, 1, 2].map((r) => [0, 1].map((c) => <rect key={`${r}${c}`} x={548 + c * 5.5} y={112 + r * 5.5} width={3} height={3} fill="#d1d4dc" />))}
      <Wave x={571} a="1" b="5" />
      <Wave x={609} a="A" b="C" />

      {/* last price */}
      <rect x={916} y={496} width={48} height={16} rx={2} fill="#ff5252" />
      <Txt x={940} y={504} t="TANCO" s={12} c="#fff" />
      <rect x={966} y={496} width={42} height={16} rx={2} fill="#ff5252" />
      <Txt x={987} y={504} t="0.240" s={12} c="#fff" />

      <MyrBox y={47} /><MyrBox y={583} /><MyrBox y={677} />

      {/* pane controls */}
      {[[587, 597], [680, 689], [781, 790]].map(([t, cy]: any) => (
        <g key={t}>
          <rect x={65.5} y={t + .5} width={28} height={19} rx={3} fill="#fff" stroke="#e0e3eb" />
          <Chev x={79} y={t + 9} />
          <Sync x={119} y={cy} />
        </g>
      ))}

      {/* watermark */}
      <path d="M67 984h16v6h-5v11h-7v-11h-4z M85 984a3 3 0 1 1 0 6a3 3 0 0 1 0-6z M93 984h7l-9 17h-7z" fill="#000" stroke="#fff" strokeWidth="1" />

      {/* top bar */}
      <rect x={0} y={0} width={1080} height={38} fill="#fff" />
      <rect x={0} y={38} width={1080} height={6} fill="#ececec" />
      <rect x={52} y={38} width={4} height={1042} fill="#ececec" />
      <rect x={1032} y={38} width={5} height={1042} fill="#ececec" />
      <rect x={52} y={1042} width={985} height={3} fill="#ececec" />

      <circle cx={26} cy={19} r={13} fill="#050505" />
      <Txt x={26} y={19} t="M" s={13} w={700} c="#1fd11f" />
      <path d="M17 12h-2v14h2 M35 12h2v14h-2" stroke="#e02020" strokeWidth="1.5" fill="none" />
      <Badge x={40} y={9} t="11" w={19} />
      <rect x={56} y={5} width={127} height={28} rx={14} fill="#ececec" />
      <Txt x={68} y={19} t="TANCO" s={14} w={700} a="start" />
      <circle cx={170} cy={19} r={11} fill="#fff" />
      <path d="M163 16l3-4h8l3 4l-7 8z" {...st} />
      <path d="M166 17h8l-4 4z" fill="#131722" />
      <circle cx={206} cy={19} r={9} {...st} />
      <path d="M201 19h10M206 14v10" {...st} />
      <Sep x={230} />
      <rect x={469} y={2} width={18} height={34} rx={4} fill="#ececec" />
      {[["1m", 251], ["3m", 283], ["5m", 315], ["15m", 351], ["30m", 391], ["1h", 425], ["4h", 453], ["D", 478], ["W", 501]].map(([t, x]: any) => <Txt key={t} x={x} y={19} t={t} s={13.5} />)}
      <Chev x={526} y={19} />
      <Sep x={542} /><Sep x={590} /><Sep x={696} /><Sep x={786} /><Sep x={866} />
      <g {...st}>
        <path d="M563 11v16M563 14h-3v9h3M570 9v18M570 12h3v10h-3" />
        <path d="M605 27h18M608 25v-6h3v6M614 25v-10h3v10M606 17l5-5l3 3l6-6" />
        <path d="M640 17l4 4l4-4" />
        <rect x={668} y={11} width={7} height={7} /><rect x={678} y={11} width={7} height={7} /><rect x={668} y={21} width={7} height={7} /><rect x={678} y={21} width={7} height={7} />
        <circle cx={722} cy={20} r={8} /><path d="M722 15v5h4M729 10l3 3M715 10l-3 3M730 24h5M732.5 21.5v5" />
        <path d="M760 13l-7 6l7 6zM768 13l-7 6l7 6z" />
      </g>
      <g stroke="#b2b5be" fill="none" strokeWidth={1.2}>
        <path d="M803 15h9a4 4 0 0 1 0 9h-6M803 15l3-3M803 15l3 3" />
        <path d="M848 15h-9a4 4 0 0 0 0 9h6M848 15l-3-3M848 15l-3 3" />
      </g>
      <rect x={875} y={11} width={16} height={16} rx={2} {...st} />
      <Txt x={907} y={19} t="INtra" s={13} a="start" />
      <rect x={938.5} y={6.5} width={59} height={25} rx={13} fill="#fff" stroke="#e0e3eb" />
      <Txt x={968} y={19} t="Trade" s={14} />
      <rect x={1006} y={6} width={69} height={27} rx={13.5} fill="#1e1e1e" />
      <Txt x={1040.5} y={19} t="Publish" s={14} c="#fff" />

      {/* left toolbar */}
      <g {...st}>
        <path d="M16 113l20-20" /><circle cx={16} cy={113} r={2.5} fill="#fff" /><circle cx={36} cy={93} r={2.5} fill="#fff" />
        <path d="M15 133h21M15 138h21M15 147h21M15 152h21M15 142.5h21" /><circle cx={36} cy={138} r={2} fill="#fff" /><circle cx={16} cy={151} r={2} fill="#fff" />
        <path d="M16 190l4-20l12 8l5 12M20 170l12 20l-12-12zM32 170l-14 12" /><circle cx={16} cy={189} r={2.2} fill="#fff" /><circle cx={20} cy={171} r={2.2} fill="#fff" /><circle cx={32} cy={171} r={2.2} fill="#fff" /><circle cx={36} cy={189} r={2.2} fill="#fff" />
        <path d="M15 210h21M15 228h21M26 212v8M30 215v4h4" /><circle cx={18} cy={210} r={2} fill="#fff" /><circle cx={18} cy={228} r={2} fill="#fff" />
        <path d="M16 267c1-9 8-13 12-12c3 4 0 10-5 12zM31 255l4-4l3-1" />
        <path d="M18 287v3h-2M18 287h16v3M26 287v17M22 304h8" />
        <circle cx={26} cy={333} r={10} /><path d="M21 336c2 3 8 3 10 0" /><circle cx={22.5} cy={330} r={.8} /><circle cx={29.5} cy={330} r={.8} />
        <path d="M16 388l16-16l5 5l-16 16zM21 383l2 2M25 379l2 2M29 375l2 2" />
        <circle cx={25} cy={421} r={8} /><path d="M31 427l5 5M21 421h8M25 417v8" />
        <path d="M18 464v10a8 8 0 0 0 16 0v-10h-4v10a4 4 0 0 1-8 0v-10z" />
        <path d="M17 516l12-12l4 4l-12 12h-4zM30 514h6v6h-6zM31 514v-2a2 2 0 0 1 4 0v2" />
        <rect x={19} y={548} width={14} height={10} rx={1} /><path d="M22 548v-4a4 4 0 0 1 8-1" />
        <path d="M15 587c6-8 16-8 22 0c-6 8-16 8-22 0z" /><circle cx={26} cy={587} r={3} />
        <path d="M21 632l-2 2a4 4 0 0 1-5-5l5-5a4 4 0 0 1 5 0M31 619l2-2a4 4 0 0 1 5 5l-5 5a4 4 0 0 1-5 0M22 630l8-9" />
        <path d="M18 669h16M23 669v-3h6v3M20 669l1 16h10l1-16" />
      </g>
      {[358, 447, 651].map((y) => <line key={y} x1={10} x2={44} y1={y} y2={y} stroke="#e0e3eb" />)}
      <rect x={9} y={1024} width={34} height={34} rx={5} fill="#222" />
      <path d="M26 1032l2.6 6l6.4 .6l-4.8 4.3l1.4 6.3l-5.6-3.3l-5.6 3.3l1.4-6.3l-4.8-4.3l6.4-.6z" fill="none" stroke="#fff" />

      {/* tooltip */}
      <rect x={10} y={42} width={211} height={42} rx={3} fill="#2a2a2a" />
      <path d="M20 42l6-4l6 4z" fill="#2a2a2a" />
      <Txt x={18} y={54} t="Logged in as MahersahamOfficial" s={12.3} c="#e4e4e4" a="start" />
      <Txt x={18} y={72} t="Active layout: INtraswing 1D" s={12.3} c="#e4e4e4" a="start" />

      {/* right toolbar */}
      <g {...st}>
        <path d="M1049 56h18v21h-18zM1053 62h10M1053 67h10M1053 72h10" />
        <circle cx={1058} cy={112} r={10} /><path d="M1058 106v6h5M1050 99l-4 3M1066 99l4 3" />
        <path d="M1058 149l12 7l-12 7l-12-7zM1046 161l12 7l12-7" />
        <path d="M1047 195h22v16h-12l-5 5v-5h-5z" />
        <circle cx={1058} cy={772} r={12} /><circle cx={1058} cy={772} r={7} /><path d="M1056 774l7-7" strokeWidth={2} />
        <path d="M1047 827l6-11l5 6l4-11l8 16zM1047 827h23" />
        <rect x={1047} y={851} width={23} height={20} rx={2} /><path d="M1047 857h23M1052 848v5M1065 848v5" />
        <path d="M1048 908a7 7 0 0 1 7 7M1048 902a13 13 0 0 1 13 13" /><circle cx={1049} cy={915} r={1.5} />
        <path d="M1058 944a7 7 0 0 0-7 7v6l-3 5h20l-3-5v-6a7 7 0 0 0-7-7zM1055 964a3 3 0 0 0 6 0" />
        <circle cx={1058} cy={1056} r={13} />
      </g>
      <Badge x={1068} y={193} t="1" w={15} />
      <Badge x={1061} y={896} t="99+" w={28} />
      <Badge x={1065} y={943} t="59" w={22} />
      <circle cx={1058} cy={998} r={17} fill="#1e1e1e" />
      {[-6, 0, 6].map((a) => [-6, 0, 6].map((b) => <circle key={`${a}${b}`} cx={1058 + a} cy={998 + b} r={2} fill="#fff" />))}
      <Txt x={1058} y={1056} t="?" s={15} />

      {/* bottom bar */}
      <circle cx={997} cy={1027} r={5} {...st} /><circle cx={997} cy={1027} r={1.6} {...st} />
      {[["1D", 79], ["5D", 110], ["1M", 140], ["3M", 172], ["6M", 204], ["YTD", 239], ["1Y", 272], ["5Y", 300], ["All", 329]].map(([t, x]: any) => <Txt key={t} x={x} y={1061} t={t} s={13.5} />)}
      <line x1={350} x2={350} y1={1052} y2={1072} stroke="#e0e3eb" />
      <g {...st}><rect x={363} y={1053} width={16} height={16} rx={2} /><path d="M363 1058h16M367 1050v5M375 1050v5M366 1064h7M371 1062l2 2l-2 2" /></g>
      <Txt x={974} y={1061} t="12:23:42 UTC+8" s={13.5} a="end" />
      <line x1={985} x2={985} y1={1052} y2={1072} stroke="#e0e3eb" />
      <Txt x={1007} y={1061} t="ADJ" s={13.5} />

      {/* pane separators */}
      {[578, 671, 772, 883].map((y) => <line key={y} x1={56} x2={1032} y1={y + .5} y2={y + .5} stroke={EDGE} strokeWidth={1.5} />)}
    </svg>
  );
}

export default function App() {
  const mainRef = useRef<HTMLCanvasElement>(null);
  const flowRef = useRef<HTMLCanvasElement>(null);
  const areaRef = useRef<HTMLCanvasElement>(null);
  const oscRef = useRef<HTMLCanvasElement>(null);
  const trendRef = useRef<HTMLCanvasElement>(null);

  useEffect(() => {
    document.body.style.margin = "0";
    const charts: Chart[] = [];
    const make = (el: any, datasets: any[], scales: any) =>
      charts.push(new Chart(el, { type: "bar", data: { datasets }, options: baseOptions(scales) } as any));

    make(mainRef.current, mainDatasets(), {
      x: xAxis(false),
      y: yAxis(-0.0462, 2.0077, priceTicks, (_, i) => priceTickLabels[i], (s) => boldPriceLabels.includes(s)),
      yVol: { display: false, min: 0, max: 53.4 },
    });

    make(flowRef.current, [
      line(flowMarks, "transparent", 0, 1, { pointRadius: 6, pointStyle: "rectRot", pointBackgroundColor: "#26c6da", pointBorderWidth: 0, showLine: false }),
      line(flowMarks, "transparent", 0, 3, { pointRadius: 19, pointStyle: "rectRot", pointBackgroundColor: "rgba(38,198,218,0.14)", pointBorderWidth: 0, showLine: false }),
      line(flowLine, "#26c6da", 2, 2, { cubicInterpolationMode: "default" }),
    ], { x: xAxis(false), y: yAxis(-35, 57, flowTicks, () => "\u221220 M") });

    make(areaRef.current, [
      line(areaLine, "#2962ff", 1, 1, { cubicInterpolationMode: "default", fill: "origin", backgroundColor: "#2962ff" }),
    ], { x: xAxis(false), y: yAxis(-22, 78, areaTicks, () => "0") });

    make(oscRef.current, [
      { type: "bar", grouped: false, barThickness: 4, inflateAmount: 0, order: 2, data: idx(oscillator), backgroundColor: oscillator.map((_, i) => oscColor(i)) },
      line([[XMIN, 0], [XMAX, 0]], "#e4e5e9", 1, 1, { borderDash: [2, 3], cubicInterpolationMode: "default" }),
    ], { x: xAxis(false), y: yAxis(-55.2, 58.3, oscillatorTicks, (_, i) => oscillatorTickLabels[i]) });

    make(trendRef.current, [
      line(trendLine, "#2196f3", 2, 1),
      ...trendLevels.map((v) => line([[XMIN, v], [XMAX, v]], "#7a1f9e", 1.4, 2, { cubicInterpolationMode: "default" })),
      { type: "bar", grouped: false, barThickness: 4, inflateAmount: 0, order: 3, data: idx(redLevel), backgroundColor: "#ef5350" },
      { type: "bar", grouped: false, barThickness: 4, inflateAmount: 0, order: 4, data: idx(yellowLevel), backgroundColor: "#ffff00" },
      { type: "bar", grouped: false, barThickness: 4, inflateAmount: 0, order: 5, data: idx(opens.map(() => 20)), backgroundColor: "#169a0c" },
    ], { x: xAxis(true), y: yAxis(-1.92, 22.69, trendTicks, (_, i) => trendTickLabels[i]) });

    return () => charts.forEach((c) => c.destroy());
  }, []);

  const cv = (top: number, h: number, ref: any) => (
    <canvas ref={ref} width={974} height={h} style={{ position: "absolute", left: 56, top, width: 974, height: h, display: "block" }} />
  );
  return (
    <div style={{ position: "absolute", left: 0, top: 0, width: 1080, height: 1080, background: "#fff", overflow: "hidden", fontFamily: FONT }}>
      {cv(44, 534, mainRef)}
      {cv(579, 92, flowRef)}
      {cv(672, 100, areaRef)}
      {cv(773, 110, oscRef)}
      {cv(884, 156, trendRef)}
      <Overlay />
    </div>
  );
}
